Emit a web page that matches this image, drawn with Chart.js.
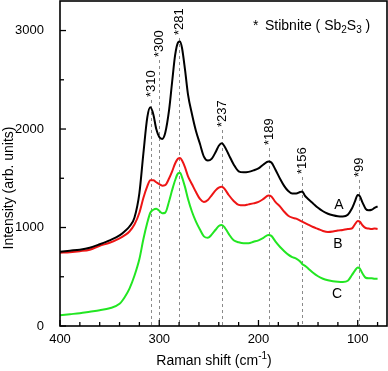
<!DOCTYPE html>
<html>
<head>
<meta charset="utf-8">
<script src="https://cdn.jsdelivr.net/npm/chart.js@4.4.1/dist/chart.umd.min.js"></script>
<style>
html,body{margin:0;padding:0;background:#fff;}
#wrap{width:388px;height:371px;position:relative;}
</style>
</head>
<body>
<div id="wrap"><canvas id="c" width="388" height="371"></canvas></div>
<script>
// ---------------- DATA ----------------
const wavenumbers = [400,390,380,370,360,350,340,335,330,325,320,316,312,309,306,303,300,297,294,290,287,284,281,279,277,274,271,267,263,259,255,251,247,243,240,237,234,230,225,220,215,210,205,200,195,190,187,183,178,174,170,166,162,158,156,153,150,145,140,135,130,125,120,115,110,106,103,100,98,95,92,89,86,83,80];
const seriesA = [755,765,775,795,830,870,920,960,1010,1100,1350,1750,2120,2220,2150,2000,1920,1900,1960,2200,2480,2750,2880,2890,2820,2600,2350,2150,1980,1850,1720,1680,1700,1770,1830,1855,1820,1740,1640,1570,1560,1565,1580,1600,1640,1670,1660,1590,1490,1420,1370,1345,1345,1360,1365,1320,1290,1245,1200,1165,1140,1125,1115,1113,1130,1190,1260,1330,1320,1250,1190,1175,1180,1200,1215];
const seriesB = [745,750,760,775,815,845,890,920,960,1030,1150,1300,1420,1480,1480,1460,1440,1425,1430,1500,1570,1650,1700,1705,1680,1610,1520,1440,1360,1290,1260,1280,1330,1380,1405,1415,1390,1330,1270,1230,1225,1235,1245,1260,1290,1325,1315,1260,1210,1160,1120,1100,1090,1070,1060,1045,1030,1005,985,965,955,960,970,975,985,990,1030,1065,1060,1020,995,990,985,990,985];
const seriesC = [110,120,130,145,160,180,225,290,380,510,680,880,1050,1150,1180,1190,1170,1145,1150,1270,1380,1480,1550,1555,1510,1410,1290,1160,1060,980,910,895,930,980,1015,1025,1000,935,870,850,840,840,855,870,895,925,915,860,800,760,725,700,685,655,630,610,585,540,505,480,465,455,450,448,460,515,560,595,585,530,490,485,485,480,480];
const seriesNames = ['A','B','C'];
const peakPositions = [308,300,280,237,189,156,99];
const peakLabels = ['*310','*300','*281','*237','*189','*156','*99'];
const peakLineTops = [2295,2701,2924,1990,1807,1513,1483];
const xTickValues = [400,300,200,100];
const xMinorValues = [380,360,340,320,280,260,240,220,180,160,140,120,80];
const yTickValues = [0,1000,2000,3000];
const yMinorValues = [500,1500,2500];
const xRange = [70.5,400];
const yRange = [0,3300];

// ---------------- STYLE ----------------
const FONT = '"Liberation Sans", Arial, sans-serif';
const colors = ['#000000','#ee1515','#22e622'];

function toPoints(vals){ return wavenumbers.map((w,i)=>({x:w,y:vals[i]})); }

const overlay = {
  id:'overlay',
  beforeDatasetsDraw(chart){
    const ctx = chart.ctx, xs = chart.scales.x, ys = chart.scales.y;
    const ca = chart.chartArea;
    ctx.save();
    ctx.strokeStyle = '#8a8a8a';
    ctx.lineWidth = 1;
    ctx.setLineDash([3,3]);
    peakPositions.forEach((p,i)=>{
      const x = Math.round(xs.getPixelForValue(p))+0.5;
      const yt = ys.getPixelForValue(peakLineTops[i]);
      ctx.beginPath(); ctx.moveTo(x,yt); ctx.lineTo(x,ca.bottom); ctx.stroke();
    });
    ctx.restore();
  },
  afterDraw(chart){
    const ctx = chart.ctx, xs = chart.scales.x, ys = chart.scales.y;
    const ca = chart.chartArea;
    ctx.save();
    // frame
    ctx.strokeStyle = '#000'; ctx.lineWidth = 1.6; ctx.setLineDash([]);
    ctx.strokeRect(ca.left, ca.top, ca.right-ca.left, ca.bottom-ca.top);
    // inward ticks
    ctx.lineWidth = 1.3;
    const tk = (len, vals, axis) => vals.forEach(v=>{
      ctx.beginPath();
      if(axis==='x'){ const x=xs.getPixelForValue(v); ctx.moveTo(x,ca.bottom); ctx.lineTo(x,ca.bottom-len); }
      else { const y=ys.getPixelForValue(v); ctx.moveTo(ca.left,y); ctx.lineTo(ca.left+len,y); }
      ctx.stroke();
    });
    tk(6, xTickValues, 'x'); tk(4, xMinorValues, 'x');
    tk(6, yTickValues, 'y'); tk(4, yMinorValues, 'y');
    // peak labels
    ctx.fillStyle = '#000';
    ctx.font = '13px ' + FONT;
    ctx.textAlign = 'left'; ctx.textBaseline = 'middle';
    peakPositions.forEach((p,i)=>{
      const x = xs.getPixelForValue(p)+0.5;
      const yt = ys.getPixelForValue(peakLineTops[i]);
      ctx.save(); ctx.translate(x, yt-3); ctx.rotate(-Math.PI/2);
      ctx.fillText(peakLabels[i], 0, 0);
      ctx.restore();
    });
    // series labels A B C
    ctx.font = '14px ' + FONT; ctx.textAlign='center'; ctx.textBaseline='alphabetic';
    const abcPos = [[339,209],[338,248],[337,298]];
    seriesNames.forEach((n,i)=>ctx.fillText(n, abcPos[i][0], abcPos[i][1]));
    // legend text with subscripts
    ctx.textAlign='left';
    let lx = 253, ly = 30;
    const seg = (t, sub) => {
      ctx.font = (sub? '10px ':'14px ') + FONT;
      ctx.fillText(t, lx, ly + (sub?3:0));
      lx += ctx.measureText(t).width;
    };
    seg('*'); lx = 265; seg('Stibnite ( Sb'); seg('2',true); seg('S'); seg('3',true); seg(' )');
    // x title
    const p1 = 'Raman shift (cm', p2 = '-1', p3 = ')';
    ctx.font = '14px ' + FONT; const w1 = ctx.measureText(p1).width, w3 = ctx.measureText(p3).width;
    ctx.font = '10px ' + FONT; const w2 = ctx.measureText(p2).width;
    let tx = 214 - (w1+w2+w3)/2;
    ctx.font = '14px ' + FONT; ctx.fillText(p1, tx, 365); tx += w1;
    ctx.font = '10px ' + FONT; ctx.fillText(p2, tx, 359); tx += w2;
    ctx.font = '14px ' + FONT; ctx.fillText(p3, tx, 365);
    // y title
    ctx.save(); ctx.translate(13, 188); ctx.rotate(-Math.PI/2);
    ctx.textAlign='center'; ctx.font='14px ' + FONT;
    ctx.fillText('Intensity (arb. units)', 0, 0);
    ctx.restore();
    ctx.restore();
  }
};

new Chart(document.getElementById('c'), {
  type:'line',
  data:{
    datasets:[seriesA,seriesB,seriesC].map((s,i)=>({
      label: seriesNames[i],
      data: toPoints(s),
      borderColor: colors[i],
      borderWidth: 2,
      pointRadius: 0,
      fill: false,
      tension: 0.4,
      cubicInterpolationMode: 'monotone'
    }))
  },
  options:{
    responsive:false,
    animation:false,
    events:[],
    layout:{padding:{top:1,right:1,left:0,bottom:0}},
    plugins:{legend:{display:false},tooltip:{enabled:false}},
    scales:{
      x:{
        type:'linear', reverse:true, min:xRange[0], max:xRange[1],
        grid:{display:false}, border:{display:false},
        afterBuildTicks(s){ s.ticks = xTickValues.map(v=>({value:v})); },
        afterFit(s){ s.height = 45; s.paddingLeft = 0; s.paddingRight = 0; },
        ticks:{color:'#000', font:{family:FONT,size:13}, padding:-2, maxRotation:0, autoSkip:false,
               callback:(v)=>String(v)}
      },
      y:{
        type:'linear', min:yRange[0], max:yRange[1],
        grid:{display:false}, border:{display:false},
        afterBuildTicks(s){ s.ticks = yTickValues.map(v=>({value:v})); },
        afterFit(s){ s.width = 60; s.paddingTop = 0; s.paddingBottom = 0; },
        ticks:{color:'#000', font:{family:FONT,size:13}, padding:8, callback:(v)=>String(v)}
      }
    }
  },
  plugins:[overlay]
});
</script>
</body>
</html>
